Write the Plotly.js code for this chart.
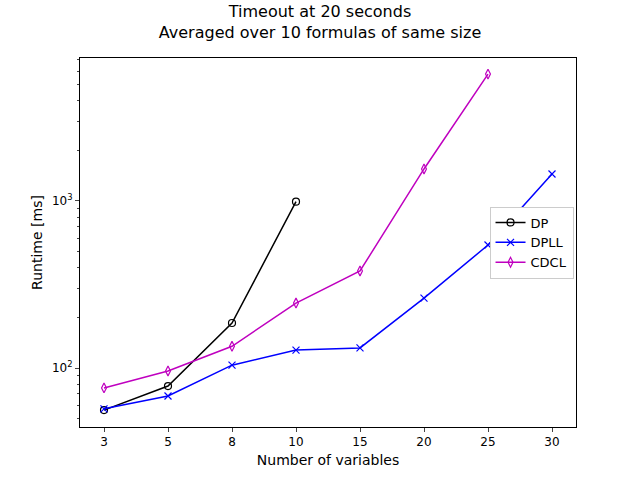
<!DOCTYPE html>
<html>
<head>
<meta charset="utf-8">
<script src="https://cdn.plot.ly/plotly-3.0.1.min.js"></script>
<style>body{margin:0;} #chart{width:640px;height:480px;}</style>
</head>
<body>
<div id="chart"></div>
<script>
// categories (evenly spaced like the original)
const variables = ['3', '5', '8', '10', '15', '20', '25', '30'];

// runtimes in ms
const dpRuntime = [56, 78, 186, 990];
const dpllRuntime = [57, 68, 104, 128, 132, 262, 545, 1450];
const cdclRuntime = [76, 96, 135, 245, 381, 1555, 5750];

function trace(name, values, color, symbol) {
    return {
        x: variables.slice(0, values.length),
        y: values,
        name: name,
        mode: 'lines+markers',
        line: {color: color, width: 1.5},
        marker: {symbol: symbol, size: 7, color: color, line: {color: color, width: 1.2}}
    };
}

const data = [
    trace('DP', dpRuntime, 'black', 'circle-open'),
    trace('DPLL', dpllRuntime, 'blue', 'x-thin-open'),
    trace('CDCL', cdclRuntime, '#bf00bf', 'diamond-tall-open')
];

const layout = {
    width: 640,
    height: 480,
    margin: {l: 80, r: 64, t: 58, b: 53},
    font: {family: 'DejaVu Sans', size: 12, color: 'black'},
    title: {
        text: 'Timeout at 20 seconds<br>Averaged over 10 formulas of same size',
        font: {size: 16},
        x: 0.5, xanchor: 'center', y: 0.965, yanchor: 'top'
    },
    paper_bgcolor: 'white',
    plot_bgcolor: 'white',
    showlegend: true,
    legend: {
        x: 0.995, y: 0.5, xanchor: 'right', yanchor: 'middle',
        bgcolor: 'white', bordercolor: '#cccccc', borderwidth: 1, font: {size: 13}
    },
    xaxis: {
        type: 'category',
        range: [-0.375, 7.375],
        title: {text: 'Number of variables', standoff: 6},
        showline: true, mirror: true, linecolor: 'black',
        ticks: 'outside', ticklen: 4, showgrid: false, zeroline: false
    },
    yaxis: {
        type: 'log',
        range: [1.647, 3.856],
        title: {text: 'Runtime [ms]', standoff: 6},
        tickvals: [100, 1000],
        ticktext: ['10<sup>2</sup>', '10<sup>3</sup>'],
        showline: true, mirror: true, linecolor: 'black',
        ticks: 'outside', ticklen: 4, showgrid: false, zeroline: false,
        minor: {ticks: 'outside', ticklen: 2, tickvals: [50,60,70,80,90,200,300,400,500,600,700,800,900,2000,3000,4000,5000,6000,7000], showgrid: false}
    }
};

Plotly.newPlot('chart', data, layout, {displayModeBar: false});
</script>
</body>
</html>
